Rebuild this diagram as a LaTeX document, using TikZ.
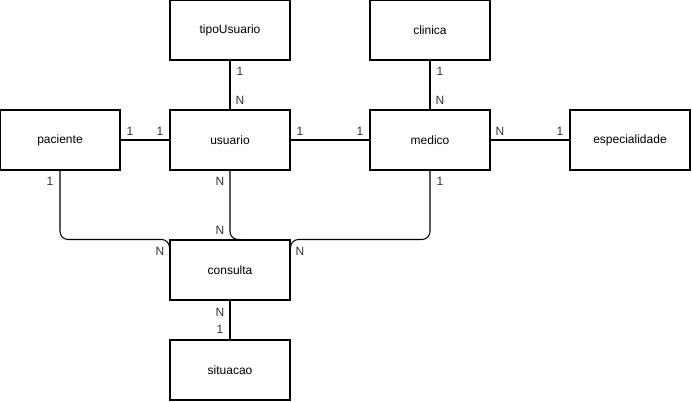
\documentclass[tikz,border=0pt]{standalone}
\usepackage{fontspec}
\setmainfont{Liberation Sans}
\usetikzlibrary{positioning}

\tikzset{
  entidade/.style={draw, line width=0.8pt, minimum width=90pt, minimum height=45pt, inner sep=0pt, font=\fontsize{9}{11}\selectfont},
  card/.style={font=\fontsize{9}{11}\selectfont, text=black!80, inner sep=0pt},
  liga/.style={line width=0.8pt, rounded corners=6pt}
}

\begin{document}
\begin{tikzpicture}[x=0.75pt,y=-0.75pt]
\useasboundingbox (0,0) rectangle (691,401);

% Entidades
\node[entidade] (tipoUsuario) at (230,30) {tipoUsuario};
\node[entidade] (clinica) at (430,30) {clinica};
\node[entidade] (paciente) at (60,140) {paciente};
\node[entidade] (usuario) at (230,140) {usuario};
\node[entidade] (medico) at (430,140) {medico};
\node[entidade] (especialidade) at (630,140) {especialidade};
\node[entidade] (consulta) at (230,270) {consulta};
\node[entidade] (situacao) at (230,370) {situacao};

% Relacionamentos diretos
\draw[liga] (tipoUsuario) -- (usuario);
\draw[liga] (clinica) -- (medico);
\draw[liga] (paciente) -- (usuario);
\draw[liga] (usuario) -- (medico);
\draw[liga] (medico) -- (especialidade);
\draw[liga] (consulta) -- (situacao);

% Relacionamentos com consulta
\draw[liga] (paciente.south) |- (consulta.north west) -- ([yshift=-7pt]consulta.north west);
\draw[liga] (usuario.south) |- ([xshift=8pt]consulta.north);
\draw[liga] (medico.south) |- (consulta.north east) -- ([yshift=-7pt]consulta.north east);

% Cardinalidades
\node[card] (c1) at (240,71) {1};
\node[card] (c2) at (240,100) {N};
\node[card] (c3) at (440,71) {1};
\node[card] (c4) at (440,100) {N};
\node[card] (c5) at (130,131) {1};
\node[card] (c6) at (160,131) {1};
\node[card] (c7) at (300,131) {1};
\node[card] (c8) at (360,131) {1};
\node[card] (c9) at (500,131) {N};
\node[card] (c10) at (560,131) {1};
\node[card] (c11) at (50,181) {1};
\node[card] (c12) at (160,251) {N};
\node[card] (c13) at (220,181) {N};
\node[card] (c14) at (220,230) {N};
\node[card] (c15) at (440,181) {1};
\node[card] (c16) at (300,251) {N};
\node[card] (c17) at (220,312) {N};
\node[card] (c18) at (220,329) {1};

\end{tikzpicture}
\end{document}
